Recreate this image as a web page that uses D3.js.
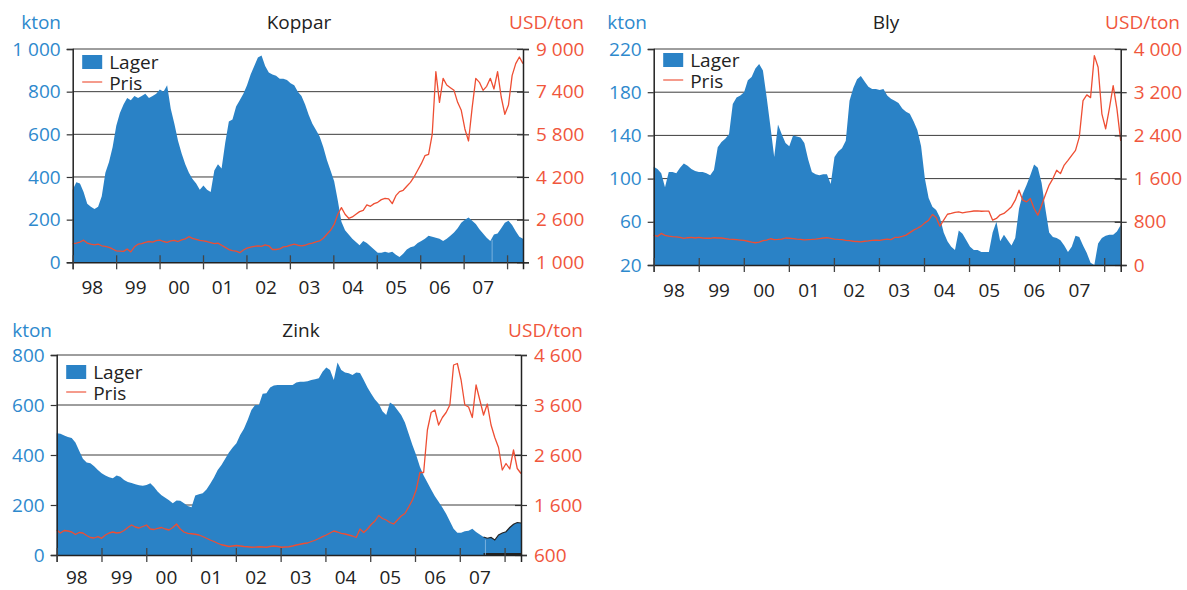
<!DOCTYPE html>
<html>
<head>
<meta charset="utf-8">
<script src="https://cdn.jsdelivr.net/npm/d3@7"></script>
<style>
  body { margin: 0; background: #fff; }
  svg { display: block; font-family: "Open Sans", "DejaVu Sans", sans-serif; }
</style>
</head>
<body>
<svg id="chart" width="1187" height="590"></svg>
<script>
// monthly values, jan 1998 -> may 2008
const kopparLager = [340,375,370,330,275,260,250,260,310,420,470,540,
  640,700,740,770,760,780,770,780,790,770,780,790,
  810,800,830,720,650,570,510,460,420,390,370,340,
  360,340,330,430,460,440,560,660,670,730,760,790,
  830,880,920,960,970,920,890,880,875,860,860,855,
  840,830,800,780,740,690,650,620,590,540,480,430,
  380,290,190,150,130,110,95,80,100,90,75,60,
  45,45,50,45,50,35,25,40,60,70,75,90,
  100,110,125,120,115,110,100,110,125,140,160,185,
  200,210,195,180,155,135,115,100,130,135,160,185,
  195,175,145,120,110];
const kopparPris = [1700,1720,1760,1830,1720,1680,1650,1680,1620,1600,1560,1500,
  1430,1420,1410,1500,1390,1580,1680,1700,1750,1780,1760,1810,
  1830,1780,1750,1800,1820,1780,1840,1880,1960,1900,1860,1820,
  1800,1780,1740,1700,1720,1640,1560,1480,1440,1420,1360,1460,
  1530,1570,1600,1620,1600,1650,1620,1480,1480,1500,1580,1600,
  1640,1680,1640,1620,1640,1690,1720,1770,1800,1900,2050,2200,
  2420,2800,3050,2800,2650,2700,2800,2900,2950,3150,3100,3200,
  3250,3350,3400,3380,3200,3500,3650,3700,3850,4000,4200,4450,
  4700,5000,5050,5800,8150,7000,7900,7650,7550,7450,7000,6700,
  6000,5550,6800,7900,7750,7450,7600,7900,7500,8150,7200,6550,
  6900,8000,8450,8700,8450];

const blyLager = [111,109,105,92,106,106,105,110,114,112,109,107,
  106,106,105,103,108,129,134,137,141,169,175,177,
  180,191,194,202,206,200,175,148,120,150,141,133,
  130,140,139,138,133,118,106,104,103,104,104,95,
  120,125,128,135,172,184,192,195,190,185,183,183,
  182,183,177,174,172,170,165,162,160,153,145,130,
  100,82,74,71,64,50,42,37,34,52,49,43,
  37,34,34,32,32,32,50,60,42,48,43,38,
  45,72,86,94,103,113,110,96,72,50,46,45,
  43,38,32,37,47,46,38,31,22,20,40,45,
  47,48,48,51,57];
const blyPris = [554,530,585,550,535,525,520,510,495,505,510,500,
  510,500,495,495,505,500,500,490,480,475,470,462,
  455,440,425,412,425,450,460,486,470,474,480,500,
  495,490,480,475,465,470,474,480,490,500,505,495,
  480,474,470,455,450,440,435,430,440,445,455,462,
  455,470,480,470,510,510,530,554,600,646,680,720,
  780,830,935,880,720,830,940,954,975,985,966,980,
  990,1000,1003,995,997,997,830,862,930,954,1015,1080,
  1200,1385,1200,1169,1231,1046,923,1108,1300,1480,1600,1754,
  1692,1850,1938,2031,2123,2369,3046,3150,3100,3877,3662,2800,
  2523,2900,3323,2892,2300];

const zinkLager = [487,485,478,472,468,450,417,385,370,367,355,340,
  327,318,311,307,318,313,300,292,288,283,279,277,
  280,287,272,253,239,229,219,207,218,217,207,196,
  191,238,243,247,262,285,310,340,360,385,410,430,
  447,480,505,540,580,600,600,645,647,670,678,680,
  680,680,680,680,690,693,693,695,700,703,707,733,
  750,740,700,770,740,730,727,720,730,728,700,670,
  645,622,605,575,560,610,600,580,560,530,485,440,
  400,353,318,290,262,235,213,190,165,135,105,89,
  89,95,97,105,92,82,72,67,70,60,80,88,
  93,110,123,130,128];
const zinkPris = [1100,1040,1090,1080,1060,1010,1050,1040,990,950,940,967,
  933,1000,1040,1060,1040,1050,1090,1150,1200,1160,1140,1170,
  1200,1120,1110,1133,1150,1120,1100,1150,1220,1120,1060,1033,
  1025,1015,1000,970,935,900,870,835,805,790,770,780,
  790,780,770,765,755,758,765,760,755,770,780,770,
  755,760,765,780,800,815,830,840,870,895,930,967,
  1000,1040,1080,1060,1033,1020,1000,980,950,1120,1050,1120,
  1210,1280,1390,1330,1300,1250,1220,1300,1380,1430,1560,1700,
  1900,2250,2250,3100,3450,3500,3200,3350,3450,3600,4400,4430,
  4100,3600,3560,3350,4000,3700,3400,3620,3200,2950,2750,2300,
  2430,2320,2700,2330,2230];

const yearLabels = ["98","99","00","01","02","03","04","05","06","07"];
const yearTicks = [1998,1999,2000,2001,2002,2003,2004,2005,2006,2007,2008];
const tStart = 1998, tEnd = 2008 + 4.4 / 12;

const kopparLeftTicks = [0,200,400,600,800,1000];
const kopparRightTicks = [1000,2600,4200,5800,7400,9000];
const blyLeftTicks = [20,60,100,140,180,220];
const blyRightTicks = [0,800,1600,2400,3200,4000];
const zinkLeftTicks = [0,200,400,600,800];
const zinkRightTicks = [600,1600,2600,3600,4600];

const BLUE = "#2a82c6", BLUE_TXT = "#2e89cd", RED = "#ee4e33", RED_TXT = "#f0563c";
const fmt = d => d3.format(",")(d).replace(/,/g, " ");

const panels = [
  {title: "Koppar", lager: kopparLager, pris: kopparPris, lt: kopparLeftTicks, rt: kopparRightTicks,
   x0: 72.7, x1: 523, y0: 49, y1: 262.3, titleX: 299, topY: 29, ktonX: 61, usdX: 584, legDy: 6, yearDy: 32, seam: 115.5},
  {title: "Bly", lager: blyLager, pris: blyPris, lt: blyLeftTicks, rt: blyRightTicks,
   x0: 653.7, x1: 1120.7, y0: 49, y1: 265, titleX: 886, topY: 29, ktonX: 647, usdX: 1180, legDy: 4, yearDy: 32, seam: null},
  {title: "Zink", lager: zinkLager, pris: zinkPris, lt: zinkLeftTicks, rt: zinkRightTicks,
   x0: 56.7, x1: 521, y0: 355, y1: 555, titleX: 301, topY: 337, ktonX: 52, usdX: 583, legDy: 10, yearDy: 29, seam: 114.5, outlineFrom: 114}
];

const svg = d3.select("#chart");

function drawPanel(p) {
  const g = svg.append("g");
  const n = p.lager.length;
  const tOf = i => tStart + i * (tEnd - tStart) / (n - 1);

  const x = d3.scaleLinear().domain([tStart, tEnd]).range([p.x0, p.x1]);
  const yL = d3.scaleLinear().domain(d3.extent(p.lt)).range([p.y1, p.y0]);
  const yR = d3.scaleLinear().domain(d3.extent(p.rt)).range([p.y1, p.y0]);

  // grid
  g.append("g").selectAll("line")
    .data(p.lt.slice(1))
    .join("line")
    .attr("x1", p.x0).attr("x2", p.x1)
    .attr("y1", d => yL(d)).attr("y2", d => yL(d))
    .attr("stroke", "#3c3c3c").attr("stroke-width", 1);

  // lager area
  const area = d3.area()
    .x((d, i) => x(tOf(i)))
    .y0(p.y1)
    .y1(d => yL(d));
  g.append("path").datum(p.lager).attr("d", area).attr("fill", BLUE);

  if (p.outlineFrom != null) {
    const sub = p.lager.map((v, i) => [tOf(i), v]).slice(p.outlineFrom);
    g.append("path").datum(sub)
      .attr("d", d3.line().x(d => x(d[0])).y(d => yL(d[1])))
      .attr("fill", "none").attr("stroke", "#222").attr("stroke-width", 1.2);
    g.append("line")
      .attr("x1", x(sub[0][0])).attr("x2", p.x1)
      .attr("y1", p.y1 - 1).attr("y2", p.y1 - 1)
      .attr("stroke", "#222").attr("stroke-width", 2);
  }
  if (p.seam != null) {
    const i0 = Math.floor(p.seam);
    const v = (p.lager[i0] + p.lager[i0 + 1]) / 2;
    const xs = x(tStart + p.seam * (tEnd - tStart) / (n - 1));
    g.append("line")
      .attr("x1", xs).attr("x2", xs)
      .attr("y1", p.y1).attr("y2", yL(v) + 2)
      .attr("stroke", "#8dbde3").attr("stroke-width", 0.8);
  }

  // pris line
  const line = d3.line()
    .x((d, i) => x(tOf(i)))
    .y(d => yR(d));
  g.append("path").datum(p.pris).attr("d", line)
    .attr("fill", "none").attr("stroke", RED).attr("stroke-width", 1.3)
    .attr("stroke-linejoin", "round");

  // left axis
  const axL = g.append("g").attr("transform", `translate(${p.x0},0)`)
    .call(d3.axisLeft(yL).tickValues(p.lt).tickSize(6).tickPadding(6).tickFormat(fmt));
  axL.select(".domain").attr("stroke", "#222").attr("stroke-width", 1.5);
  axL.selectAll(".tick line").attr("stroke", "#333").attr("stroke-width", 1.2);
  axL.selectAll("text").attr("fill", BLUE_TXT).attr("font-size", 19)
    .attr("font-family", "'Open Sans', sans-serif");

  // right axis
  const axR = g.append("g").attr("transform", `translate(${p.x1},0)`)
    .call(d3.axisRight(yR).tickValues(p.rt).tickSize(6).tickPadding(7).tickFormat(fmt));
  axR.select(".domain").attr("stroke", "#222").attr("stroke-width", 1.5);
  axR.selectAll(".tick line").attr("stroke", "#333").attr("stroke-width", 1.2).attr("x1", -6);
  axR.selectAll("text").attr("fill", RED_TXT).attr("font-size", 19)
    .attr("font-family", "'Open Sans', sans-serif");

  // bottom axis, ticks cross the line
  const axB = g.append("g").attr("transform", `translate(0,${p.y1})`)
    .call(d3.axisBottom(x).tickValues(yearTicks).tickSize(7).tickFormat(""));
  axB.select(".domain").attr("stroke", "#222").attr("stroke-width", 1.5);
  axB.selectAll(".tick line").attr("y1", -7).attr("stroke", "#444").attr("stroke-width", 1.3);

  g.append("g").selectAll("text")
    .data(yearLabels)
    .join("text")
    .attr("x", (d, i) => x(yearTicks[i] + 0.45))
    .attr("y", p.y1 + p.yearDy)
    .attr("text-anchor", "middle")
    .attr("font-size", 19).attr("fill", "#222")
    .text(d => d);

  // titles
  g.append("text").attr("x", p.titleX).attr("y", p.topY)
    .attr("text-anchor", "middle").attr("font-size", 19).attr("fill", "#222")
    .text(p.title);
  g.append("text").attr("x", p.ktonX).attr("y", p.topY)
    .attr("text-anchor", "end").attr("font-size", 19).attr("fill", BLUE_TXT)
    .text("kton");
  g.append("text").attr("x", p.usdX).attr("y", p.topY)
    .attr("text-anchor", "end").attr("font-size", 19).attr("fill", RED_TXT)
    .text("USD/ton");

  // legend
  const lx = p.x0 + 9.5, ly = p.y0 + p.legDy;
  g.append("rect").attr("x", lx).attr("y", ly).attr("width", 20).attr("height", 14).attr("fill", BLUE);
  g.append("text").attr("x", lx + 27).attr("y", ly + 13.5)
    .attr("font-size", 19).attr("fill", "#222").text("Lager");
  g.append("line").attr("x1", lx).attr("x2", lx + 20).attr("y1", ly + 27).attr("y2", ly + 27)
    .attr("stroke", RED).attr("stroke-opacity", 0.75).attr("stroke-width", 1.5);
  g.append("text").attr("x", lx + 27).attr("y", ly + 34.5)
    .attr("font-size", 19).attr("fill", "#222").text("Pris");
}

panels.forEach(drawPanel);
</script>
</body>
</html>
